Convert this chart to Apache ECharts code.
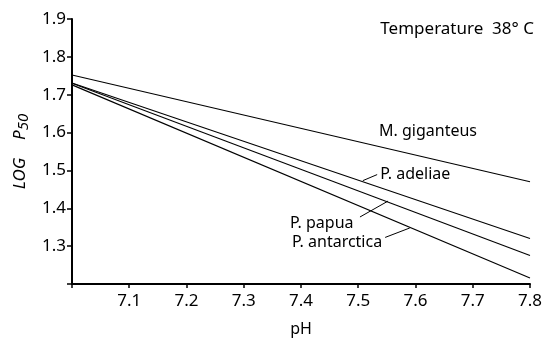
<!DOCTYPE html>
<html>
<head>
<meta charset="utf-8">
<style>
    html, body { margin: 0; padding: 0; background: #fff; }
    #chart { width: 545px; height: 342px; }
</style>
<script src="https://cdn.jsdelivr.net/npm/echarts@6/dist/echarts.min.js"></script>
</head>
<body>
<div id="chart"></div>
<script>
    // pH at the ends of each straight line
    var pH = [7.0, 7.8];
    var giganteus = [1.752, 1.470];
    var adeliae = [1.731, 1.320];
    var papua = [1.730, 1.275];
    var antarctica = [1.726, 1.216];

    var xTicks = [7.0, 7.1, 7.2, 7.3, 7.4, 7.5, 7.6, 7.7, 7.8];
    var yTicks = [1.2, 1.3, 1.4, 1.5, 1.6, 1.7, 1.8, 1.9];

    // leader lines: [from, to] in data values
    var adeliaeLeader = [[7.508, 1.473], [7.533, 1.489]];
    var papuaLeader = [[7.503, 1.377], [7.552, 1.419]];
    var antarcticaLeader = [[7.547, 1.323], [7.590, 1.348]];

    var font = 'Noto Sans';
    var chart = echarts.init(document.getElementById('chart'));

    function pairs(ys) {
        return pH.map(function (x, i) { return [x, ys[i]]; });
    }

    function leader(pts) {
        return {
            silent: true,
            symbol: 'none',
            lineStyle: { color: '#000', width: 1, type: 'solid' },
            label: { show: false },
            data: [[{ coord: pts[0] }, { coord: pts[1] }]]
        };
    }

    function tag(text, coord, pos) {
        return {
            silent: true,
            symbol: 'circle',
            symbolSize: 0,
            label: {
                show: true, position: pos, distance: 3,
                formatter: text, color: '#000', fontFamily: font, fontSize: 16
            },
            data: [{ coord: coord }]
        };
    }

    function line(name, ys, extra) {
        var s = {
            name: name,
            type: 'line',
            data: pairs(ys),
            showSymbol: false,
            symbol: 'none',
            lineStyle: { color: '#000', width: 1.1 },
            z: 3
        };
        for (var k in extra) s[k] = extra[k];
        return s;
    }

    chart.setOption({
        animation: false,
        grid: { left: 72, right: 15, top: 19, bottom: 54 },
        title: {
            text: 'Temperature  38° C',
            right: 6, top: 16,
            textStyle: { color: '#000', fontFamily: font, fontSize: 17, fontWeight: 'normal' }
        },
        xAxis: {
            type: 'value',
            min: 7.0, max: 7.8, interval: 0.1,
            name: 'pH', nameLocation: 'middle', nameGap: 37,
            nameTextStyle: { color: '#000', fontFamily: font, fontSize: 16 },
            axisLine: { lineStyle: { color: '#000', width: 2 } },
            axisTick: { show: true, length: 4, lineStyle: { color: '#000', width: 1.5 } },
            splitLine: { show: false },
            axisLabel: {
                color: '#000', fontFamily: font, fontSize: 17, margin: 9,
                formatter: function (v) {
                    var t = xTicks.find(function (k) { return Math.abs(k - v) < 1e-6; });
                    return (t === undefined || t === 7.0) ? '' : t.toFixed(1);
                }
            }
        },
        yAxis: {
            type: 'value',
            min: 1.2, max: 1.9, interval: 0.1,
            name: '{i|LOG    P}{s|50}', nameLocation: 'middle', nameGap: 36, nameRotate: 90,
            nameTextStyle: {
                rich: {
                    i: { fontFamily: font, fontStyle: 'italic', fontSize: 17, color: '#000' },
                    s: { fontFamily: font, fontStyle: 'italic', fontSize: 15, color: '#000', padding: [6, 0, 0, 0] }
                }
            },
            axisLine: { lineStyle: { color: '#000', width: 2 } },
            axisTick: { show: true, length: 5, lineStyle: { color: '#000', width: 1.5 } },
            splitLine: { show: false },
            axisLabel: {
                color: '#000', fontFamily: font, fontSize: 17, margin: 6,
                formatter: function (v) {
                    var t = yTicks.find(function (k) { return Math.abs(k - v) < 1e-6; });
                    return (t === undefined || t === 1.2) ? '' : t.toFixed(1);
                }
            }
        },
        series: [
            line('M. giganteus', giganteus, {
                markPoint: tag('M. giganteus', [7.531, 1.604], 'right')
            }),
            line('P. adeliae', adeliae, {
                markLine: leader(adeliaeLeader),
                markPoint: tag('P. adeliae', adeliaeLeader[1], 'right')
            }),
            line('P. papua', papua, {
                markLine: leader(papuaLeader),
                markPoint: tag('P. papua', [papuaLeader[0][0] - 0.006, papuaLeader[0][1] - 0.017], 'left')
            }),
            line('P. antarctica', antarctica, {
                markLine: leader(antarcticaLeader),
                markPoint: tag('P. antarctica', [antarcticaLeader[0][0], antarcticaLeader[0][1] - 0.012], 'left')
            })
        ]
    });
</script>
</body>
</html>
